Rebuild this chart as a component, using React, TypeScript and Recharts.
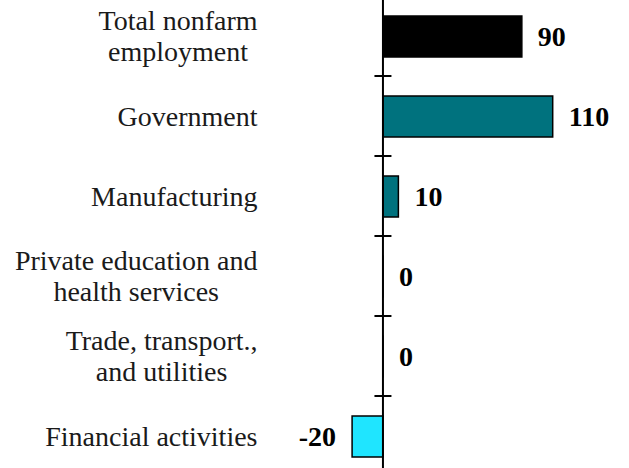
import React from 'react';
import { BarChart, Bar, XAxis, YAxis, Cell, LabelList, ReferenceLine } from 'recharts';

const categories = [
  'Total nonfarm\nemployment',
  'Government',
  'Manufacturing',
  'Private education and\nhealth services',
  'Trade, transport.,\nand utilities',
  'Financial activities',
];
const values = [90, 110, 10, 0, 0, -20];
const colors = ['#000000', '#00727E', '#00727E', '#00727E', '#00727E', '#1FE5FF'];
const xDomain = [-80, 140];

const data = categories.map((c, i) => ({ name: c, value: values[i] }));

const FONT = '"Liberation Serif", serif';
const FS = 28;
const LH = 31;

let ctx: CanvasRenderingContext2D | null = null;
function measure(t: string): number {
  if (!ctx) ctx = document.createElement('canvas').getContext('2d');
  if (!ctx) return t.length * FS * 0.45;
  ctx.font = `${FS}px "Liberation Serif"`;
  return ctx.measureText(t).width;
}

const CategoryTick = (props: any) => {
  const { x, y, payload } = props;
  const lines = String(payload.value).split('\n');
  const w = Math.max(...lines.map(measure));
  const right = x - 2;
  const cx = right - w / 2;
  const start = -((lines.length - 1) * LH) / 2;
  return (
    <text textAnchor="middle" fontFamily={FONT} fontSize={FS} fill="#1a1a1a">
      {lines.map((l, i) => (
        <tspan key={i} x={cx} y={y + start + i * LH} dy="0.35em">
          {l}
        </tspan>
      ))}
    </text>
  );
};

const ValueLabel = (p: any) => {
  const { x, y, width, height, value } = p;
  const v = Number(value);
  const left = Math.min(x, x + width);
  const right = Math.max(x, x + width);
  const neg = v < 0;
  return (
    <text
      x={neg ? left - 16 : right + 16}
      y={y + height / 2}
      dy="0.35em"
      textAnchor={neg ? 'end' : 'start'}
      fontFamily={FONT}
      fontSize={FS}
      fontWeight="bold"
      fill="#000"
    >
      {v}
    </text>
  );
};

const AxisShape = (p: any) => {
  const { x1, y1, x2, y2 } = p;
  const n = categories.length;
  const ticks = [];
  for (let k = 1; k < n; k++) {
    const yy = y1 + ((y2 - y1) * k) / n;
    ticks.push(<line key={k} x1={x1 - 8.5} x2={x1 + 8.5} y1={yy} y2={yy} stroke="#000" strokeWidth={2} />);
  }
  return (
    <g>
      <line x1={x1} y1={y1} x2={x2} y2={y2} stroke="#000" strokeWidth={2} />
      {ticks}
    </g>
  );
};

export default function App() {
  return (
    <div style={{ position: 'absolute', left: 0, top: -4, background: '#fff' }}>
      <BarChart
        width={629}
        height={480}
        data={data}
        layout="vertical"
        margin={{ top: 0, right: 30, bottom: 0, left: 0 }}
      >
        <XAxis type="number" hide domain={xDomain} />
        <YAxis
          type="category"
          dataKey="name"
          width={259.5}
          axisLine={false}
          tickLine={false}
          tickSize={0}
          tickMargin={0}
          interval={0}
          tick={<CategoryTick />}
        />
        <Bar
          dataKey="value"
          barSize={41}
          stroke="#000"
          strokeWidth={1.5}
          minPointSize={0.01}
          isAnimationActive={false}
        >
          {data.map((d, i) => (
            <Cell key={i} fill={colors[i]} />
          ))}
          <LabelList dataKey="value" content={<ValueLabel />} />
        </Bar>
        <ReferenceLine x={0} shape={<AxisShape />} ifOverflow="visible" />
      </BarChart>
    </div>
  );
}
